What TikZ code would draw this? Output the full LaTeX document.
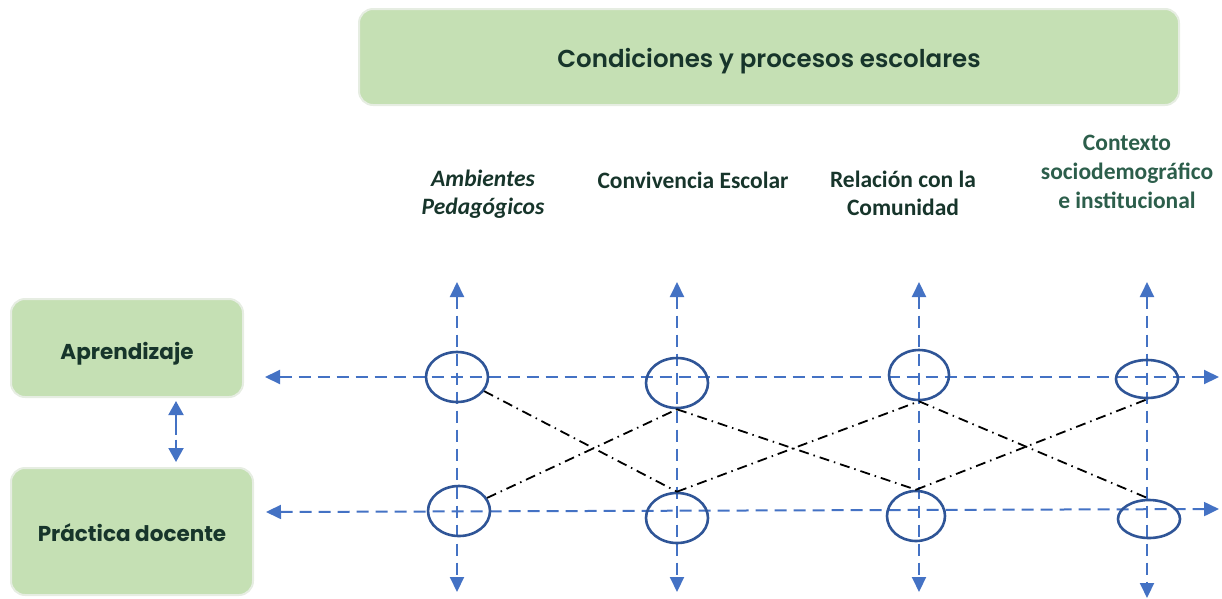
\documentclass[tikz,border=0pt]{standalone}
\usepackage{fontspec}
\setmainfont{Carlito}
\newfontfamily\popfont{Poppins}
\newfontfamily\popsemi{Poppins SemiBold}
\usetikzlibrary{arrows.meta,shapes.geometric}
\definecolor{boxgreen}{HTML}{C5E0B4}
\definecolor{boxedge}{HTML}{E6EDE2}
\definecolor{txtdark}{HTML}{17352B}
\definecolor{txtgreen}{HTML}{2C5E4B}
\definecolor{lineblue}{HTML}{4472C4}
\definecolor{ellblue}{HTML}{2F5597}
\tikzset{
  greenbox/.style={draw=boxedge,line width=2pt,fill=boxgreen,rounded corners=14pt,
    text=txtdark,font=\popfont\bfseries\fontsize{21.5}{25}\selectfont,align=center,inner sep=0pt,
    text depth=0pt},
  collabel/.style={text=txtdark,font=\bfseries\fontsize{23.5}{28}\selectfont,align=center,inner sep=0pt},
  axisline/.style={draw=lineblue,line width=2pt,dash pattern=on 12pt off 7pt,
    {Triangle[length=15pt,width=14pt,fill=lineblue]}-{Triangle[length=15pt,width=14pt,fill=lineblue]}},
  ring/.style={ellipse,draw=ellblue,line width=2.6pt,inner sep=0pt},
  link/.style={draw=black,line width=1.8pt,dash pattern=on 10pt off 5pt on 1.5pt off 5pt},
}
\begin{document}
\begin{tikzpicture}[x=1pt,y=-1pt]
\useasboundingbox (0,0) rectangle (1222,598);
% boxes
\node[greenbox,minimum width=820pt,minimum height=96pt,font=\popsemi\fontsize{24.5}{28}\selectfont,text height=20pt] (top) at (769,57) {Condiciones y procesos escolares};
\node[greenbox,minimum width=232pt,minimum height=98pt,text height=23pt] (apr) at (127,348) {Aprendizaje};
\node[greenbox,minimum width=242pt,minimum height=127pt,text height=20.6pt] (pra) at (132,531.5) {Práctica docente};
% double arrow between boxes
\coordinate (da) at (176,401);
\coordinate (db) at (176,462);
\draw[axisline,{Triangle[length=14pt,width=15pt,fill=lineblue]}-{Triangle[length=14pt,width=15pt,fill=lineblue]},dash pattern=on 20pt off 5pt] (da) -- (db);
% column labels
\node[collabel,font=\bfseries\itshape\fontsize{23.5}{28}\selectfont] (c1) at (483,194) {Ambientes\\Pedagógicos};
\node[collabel] (c2) at (693,180) {Convivencia Escolar};
\node[collabel] (c3) at (903,193) {Relación con la\\Comunidad};
\node[collabel,text=txtgreen,font=\bfseries\fontsize{23.5}{29}\selectfont] (c4) at (1127,172) {Contexto\\sociodemográfico\\e institucional};
% axis coordinates
\coordinate (hl1) at (265,377);
\coordinate (hr1) at (1219,377);
\coordinate (hl2) at (266,512);
\coordinate (hr2) at (1219,509);
\coordinate (v1t) at (457,282);
\coordinate (v1b) at (457,592);
\coordinate (v2t) at (677,282);
\coordinate (v2b) at (677,592);
\coordinate (v3t) at (919,282);
\coordinate (v3b) at (919,592);
\coordinate (v4t) at (1147,282);
\coordinate (v4b) at (1147,598);
\draw[axisline] (hl1) -- (hr1);
\draw[axisline] (hl2) -- (hr2);
\draw[axisline] (v1t) -- (v1b);
\draw[axisline] (v2t) -- (v2b);
\draw[axisline] (v3t) -- (v3b);
\draw[axisline] (v4t) -- (v4b);
% rings
\node[ring,minimum width=62pt,minimum height=50pt] (t1) at (457,377) {};
\node[ring,minimum width=62pt,minimum height=50pt] (t2) at (677,383) {};
\node[ring,minimum width=60pt,minimum height=50pt] (t3) at (919,375) {};
\node[ring,minimum width=62pt,minimum height=38pt] (t4) at (1147,379) {};
\node[ring,minimum width=62pt,minimum height=50pt] (b1) at (459,511) {};
\node[ring,minimum width=62pt,minimum height=50pt] (b2) at (677,518) {};
\node[ring,minimum width=58pt,minimum height=50pt] (b3) at (916,516) {};
\node[ring,minimum width=62pt,minimum height=38pt] (b4) at (1149,519) {};
% links
\draw[link] (t1) -- (b2.north);
\draw[link] (b1) -- (t2.south);
\draw[link] (t2.south) -- (b3.north);
\draw[link] (b2.north) -- (t3.south);
\draw[link] (t3.south) -- (b4.north);
\draw[link] (b3.north) -- (t4.south);
\end{tikzpicture}
\end{document}
